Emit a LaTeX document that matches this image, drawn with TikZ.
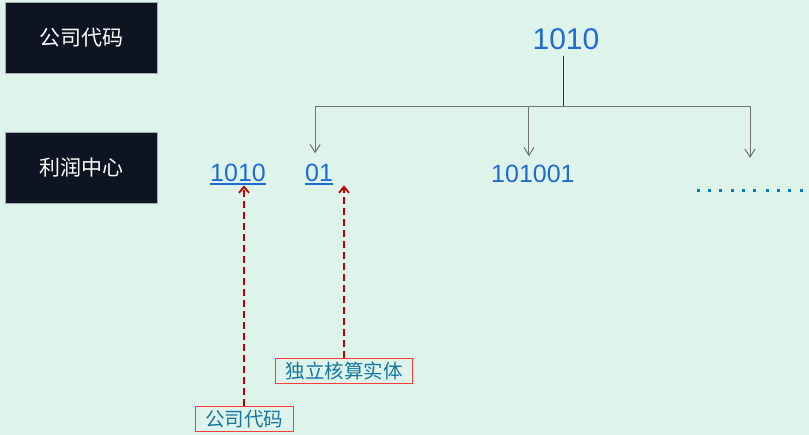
\documentclass[tikz,border=0pt]{standalone}
\usepackage{fontspec}
\setmainfont{Liberation Sans}
\newfontfamily\cjk{Noto Sans CJK SC}
\usetikzlibrary{arrows.meta,positioning}
\definecolor{PageMint}{HTML}{DEF4EA}
\definecolor{BoxNavy}{HTML}{0E1421}
\definecolor{CodeBlue}{HTML}{1F6BD4}
\definecolor{NoteTeal}{HTML}{1576A0}
\definecolor{NoteRed}{HTML}{FF3B3B}
\definecolor{PointRed}{HTML}{C00000}
\definecolor{LineGray}{HTML}{6E7476}
\definecolor{DotBlue}{HTML}{0A7DB8}
\begin{document}
\begin{tikzpicture}[
x=1pt,y=-1pt,
darkbox/.style={draw=LineGray!60,fill=BoxNavy,text=white,minimum width=152pt,minimum height=71pt,font=\cjk\fontsize{21}{25}\selectfont},
code/.style={text=CodeBlue,inner sep=0pt,font=\fontsize{25}{30}\selectfont},
uline/.style={CodeBlue,line width=1.8pt},
note/.style={draw=NoteRed,line width=1pt,text=NoteTeal,inner xsep=10pt,inner ysep=0pt,minimum height=25pt,font=\cjk\fontsize{19.5}{22}\selectfont},
tree/.style={-{Straight Barb[length=8pt,width=10pt]},LineGray,line width=1pt},
point/.style={-{Straight Barb[length=6pt,width=10pt]},PointRed,line width=1.8pt,dash pattern=on 7pt off 4pt}
]
\fill[PageMint] (0,0) rectangle (809,435);
\useasboundingbox (0,0) rectangle (809,435);
% level labels
\node[darkbox] (compbox) at (81,37.5) {公司代码};
\node[darkbox] (profbox) at (81,168) {利润中心};
% codes
\node[code,font=\fontsize{30}{36}\selectfont] (topcode) at (566,39) {1010};
\node[code,anchor=base west] (codepart) at (210,182) {1010};
\node[code,anchor=base west] (subpart) at (305,182) {01};
\node[code,anchor=base west] (sibcode) at (491,183) {101001};
\draw[uline] ([yshift=-2pt]codepart.base west) -- ([yshift=-2pt]codepart.base east);
\draw[uline] ([yshift=-2pt]subpart.base west) -- ([yshift=-2pt]subpart.base east);
\coordinate (morehead) at (750,158);
\foreach \dx in {698,709,720,732,743,754,767,778,789,801}
  \fill[DotBlue] (\dx-1.5,189.5) rectangle ++(3,3);
% tree
\coordinate (split) at (563,107);
\draw[black!80,line width=1pt] (topcode.south -| split) ++(0,6) -- (split);
\draw[tree] (split) -| ([xshift=-4pt,yshift=11pt]subpart.north);
\draw[tree] (split) -| ([xshift=-4pt,yshift=9pt]sibcode.north);
\draw[tree] (split) -| (morehead);
% notes
\node[note] (entlabel) at (344,371.5) {独立核算实体};
\node[note] (complabel) at (244,419) {公司代码};
\draw[point,shorten >=3pt] (complabel.north) -- (complabel.north |- codepart.south);
\draw[point,shorten >=3pt] (entlabel.north) -- (entlabel.north |- subpart.south);
\end{tikzpicture}
\end{document}
